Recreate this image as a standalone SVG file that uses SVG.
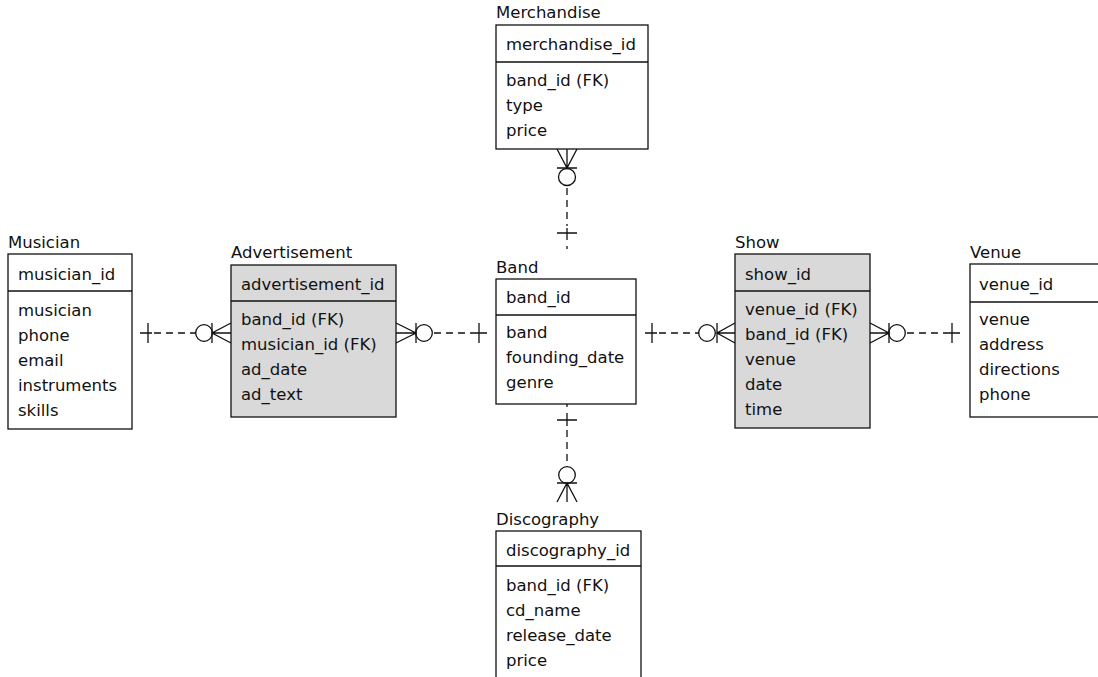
<svg xmlns="http://www.w3.org/2000/svg" width="1098" height="677" viewBox="0 0 1098 677">
<style>
text{font-family:"DejaVu Sans","Liberation Sans",sans-serif;font-size:16.5px;fill:#111}
.box{fill:#fff;stroke:#111;stroke-width:1.3}
.gbox{fill:#d9d9d9;stroke:#111;stroke-width:1.3}
.div{stroke:#111;stroke-width:1.3}
.c{fill:none;stroke:#111;stroke-width:1.3}
.d{fill:none;stroke:#111;stroke-width:1.3;stroke-dasharray:7 5}
</style>
<rect width="1098" height="677" fill="#fff"/>
<g id="musician">
<text x="8" y="248">Musician</text>
<rect class="box" x="8" y="254" width="124" height="175"/>
<line class="div" x1="8" y1="291" x2="132" y2="291"/>
<text x="18" y="280">musician_id</text>
<text x="18" y="316">musician</text>
<text x="18" y="341">phone</text>
<text x="18" y="366">email</text>
<text x="18" y="391">instruments</text>
<text x="18" y="416">skills</text>
</g>
<g id="advertisement">
<text x="231" y="258">Advertisement</text>
<rect class="gbox" x="231" y="265" width="165" height="152"/>
<line class="div" x1="231" y1="301" x2="396" y2="301"/>
<text x="241" y="290">advertisement_id</text>
<text x="241" y="325">band_id (FK)</text>
<text x="241" y="350">musician_id (FK)</text>
<text x="241" y="375">ad_date</text>
<text x="241" y="400">ad_text</text>
</g>
<g id="band">
<text x="496" y="273">Band</text>
<rect class="box" x="496" y="279" width="140" height="125"/>
<line class="div" x1="496" y1="315" x2="636" y2="315"/>
<text x="506" y="303">band_id</text>
<text x="506" y="338">band</text>
<text x="506" y="363">founding_date</text>
<text x="506" y="388">genre</text>
</g>
<g id="merchandise">
<text x="496" y="18">Merchandise</text>
<rect class="box" x="496" y="25" width="152" height="124"/>
<line class="div" x1="496" y1="62" x2="648" y2="62"/>
<text x="506" y="50">merchandise_id</text>
<text x="506" y="86">band_id (FK)</text>
<text x="506" y="111">type</text>
<text x="506" y="136">price</text>
</g>
<g id="discography">
<text x="496" y="525">Discography</text>
<rect class="box" x="496" y="531" width="145" height="160"/>
<line class="div" x1="496" y1="566" x2="641" y2="566"/>
<text x="506" y="556">discography_id</text>
<text x="506" y="591">band_id (FK)</text>
<text x="506" y="616">cd_name</text>
<text x="506" y="641">release_date</text>
<text x="506" y="666">price</text>
</g>
<g id="show">
<text x="735" y="248">Show</text>
<rect class="gbox" x="735" y="254" width="135" height="174"/>
<line class="div" x1="735" y1="291" x2="870" y2="291"/>
<text x="745" y="280">show_id</text>
<text x="745" y="315">venue_id (FK)</text>
<text x="745" y="340">band_id (FK)</text>
<text x="745" y="365">venue</text>
<text x="745" y="390">date</text>
<text x="745" y="415">time</text>
</g>
<g id="venue">
<text x="970" y="258">Venue</text>
<rect class="box" x="970" y="264" width="140" height="153"/>
<line class="div" x1="970" y1="302" x2="1110" y2="302"/>
<text x="979" y="290">venue_id</text>
<text x="979" y="325">venue</text>
<text x="979" y="350">address</text>
<text x="979" y="375">directions</text>
<text x="979" y="400">phone</text>
</g>
<g id="connectors">
<path class="c" d="M140 333H152M148 323V343"/>
<path class="d" d="M154 333H196"/>
<circle class="c" cx="204" cy="333" r="8.3"/>
<path class="c" d="M212 333H231M212 323V343M231 323L212 333L231 343"/>
<path class="c" d="M396 333H416M416 323V343M396 323L416 333L396 343"/>
<circle class="c" cx="424" cy="333" r="8.3"/>
<path class="d" d="M434 333H475"/>
<path class="c" d="M475 333H487M479 323V343"/>
<path class="c" d="M645 333H657M652 323V343"/>
<path class="d" d="M659 333H699"/>
<circle class="c" cx="707" cy="333" r="8.3"/>
<path class="c" d="M717 333H735M717 323V343M735 323L717 333L735 343"/>
<path class="c" d="M870 333H889M889 323V343M870 323L889 333L870 343"/>
<circle class="c" cx="897" cy="333" r="8.3"/>
<path class="d" d="M907 333H948"/>
<path class="c" d="M948 333H960M952 323V343"/>
<path class="c" d="M567 149V168M557 168H577M557 149L567 168L577 149"/>
<circle class="c" cx="567" cy="177" r="8.5"/>
<path class="d" d="M567 188V226"/>
<path class="c" d="M567 228V240M557 233H577"/>
<path class="c" d="M567 246V249"/>
<path class="c" d="M567 404V407M567 413V426M557 420H577"/>
<path class="d" d="M567 430V466"/>
<circle class="c" cx="567" cy="475" r="8.3"/>
<path class="c" d="M567 483V502M557 483H577M557 502L567 483L577 502"/>
</g>
</svg>
